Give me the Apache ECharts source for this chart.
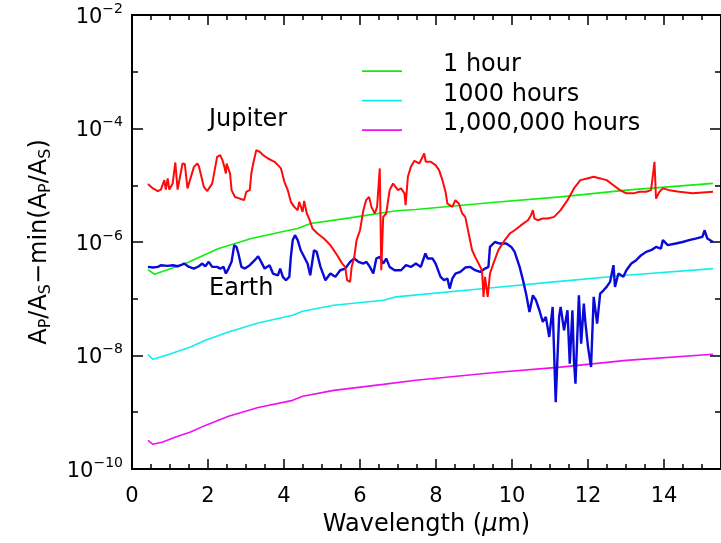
<!DOCTYPE html>
<html>
<head>
<meta charset="utf-8">
<script src="https://cdn.jsdelivr.net/npm/echarts@6/dist/echarts.min.js"></script>
<style>
  html, body { margin: 0; padding: 0; background: #fff; }
  #chart { width: 721px; height: 543px; }
</style>
</head>
<body>
<div id="chart"></div>
<script>
// Wavelength axis (micron) and log-scaled contrast axis
const xTickLabels = ['0', '2', '4', '6', '8', '10', '12', '14'];

// Jupiter spectrum
const jupiterWl = [0.42,0.55,0.68,0.76,0.85,0.89,0.94,0.98,1.07,1.14,
  1.20,1.33,1.39,1.46,1.50,1.63,1.72,1.76,1.89,1.98,
  2.02,2.11,2.24,2.32,2.38,2.43,2.47,2.49,2.54,2.58,
  2.62,2.71,2.84,2.95,3.01,3.10,3.14,3.19,3.27,3.36,
  3.45,3.58,3.75,3.84,3.92,4.01,4.10,4.18,4.27,4.36,
  4.40,4.49,4.53,4.60,4.66,4.75,4.88,5.05,5.22,5.40,
  5.53,5.61,5.66,5.74,5.78,5.85,5.91,6.00,6.09,6.16,
  6.24,6.30,6.39,6.45,6.52,6.56,6.61,6.69,6.78,6.87,
  7.00,7.08,7.17,7.20,7.26,7.34,7.43,7.47,7.56,7.69,
  7.73,7.86,7.99,8.08,8.17,8.25,8.30,8.43,8.51,8.60,
  8.69,8.77,8.86,8.95,9.03,9.12,9.21,9.25,9.29,9.36,
  9.42,9.51,9.64,9.81,9.94,10.07,10.24,10.42,10.50,10.55,
  10.59,10.68,10.81,10.94,11.11,11.28,11.46,11.63,11.80,11.98,
  12.15,12.32,12.49,12.67,12.84,13.01,13.19,13.36,13.53,13.66,
  13.75,13.79,13.88,13.97,14.14,14.40,14.75,15.29];
const jupiterVal = [1.05e-5,8.8e-6,7.9e-6,8.4e-6,1.23e-5,8.4e-6,1.32e-5,8.4e-6,1.07e-5,2.52e-5,
  8.4e-6,2.42e-5,2.36e-5,8.8e-6,8.4e-6,2.11e-5,2.42e-5,2.17e-5,9.4e-6,7.9e-6,
  8.4e-6,1.07e-5,3.17e-5,3.40e-5,2.77e-5,2.11e-5,1.61e-5,2.42e-5,2.26e-5,1.61e-5,
  8.2e-6,6.2e-6,5.8e-6,5.5e-6,7.7e-6,8.2e-6,1.61e-5,2.42e-5,4.16e-5,3.89e-5,
  3.40e-5,2.96e-5,2.59e-5,2.26e-5,1.98e-5,1.15e-5,8.2e-6,5.1e-6,4.16e-6,3.64e-6,
  5.1e-6,3.40e-6,5.3e-6,3.18e-6,2.59e-6,1.73e-6,1.41e-6,1.15e-6,8.8e-7,5.85e-7,
  4.17e-7,3.64e-7,2.12e-7,1.98e-7,3.64e-7,5.47e-7,1.08e-6,1.61e-6,3.64e-6,5.46e-6,
  6.24e-6,4.16e-6,3.18e-6,4.16e-6,1.98e-5,3.18e-7,2.77e-6,3.18e-6,8.2e-6,1.07e-5,
  8.2e-6,8.8e-6,7.2e-6,4.46e-6,1.41e-5,2.11e-5,2.70e-5,2.85e-5,2.42e-5,3.63e-5,
  2.59e-5,2.59e-5,2.26e-5,1.85e-5,1.23e-5,7.7e-6,4.76e-6,4.16e-6,5.46e-6,4.76e-6,
  3.18e-6,2.77e-6,1.41e-6,7.2e-7,5.47e-7,4.17e-7,3.18e-7,1.08e-7,2.43e-7,1.08e-7,
  2.78e-7,4.17e-7,7.2e-7,1.08e-6,1.41e-6,1.61e-6,1.98e-6,2.42e-6,2.97e-6,3.64e-6,
  2.59e-6,2.42e-6,2.59e-6,2.59e-6,2.77e-6,3.64e-6,5.46e-6,8.8e-6,1.23e-5,1.32e-5,
  1.41e-5,1.32e-5,1.23e-5,1.00e-5,8.2e-6,7.2e-6,7.2e-6,7.7e-6,7.7e-6,8.2e-6,
  2.59e-5,5.8e-6,7.7e-6,8.8e-6,8.2e-6,7.7e-6,7.2e-6,7.7e-6];

// Earth spectrum
const earthWl = [0.42,0.55,0.68,0.76,0.81,0.94,1.07,1.20,1.28,1.37,
  1.41,1.50,1.63,1.76,1.85,1.93,2.02,2.11,2.24,2.32,
  2.41,2.47,2.54,2.62,2.69,2.75,2.80,2.88,2.97,3.10,
  3.23,3.32,3.40,3.49,3.62,3.71,3.84,3.90,3.97,4.05,
  4.14,4.18,4.23,4.29,4.36,4.44,4.62,4.69,4.79,4.86,
  4.96,5.09,5.22,5.35,5.48,5.61,5.74,5.85,5.96,6.09,
  6.17,6.26,6.35,6.43,6.52,6.61,6.69,6.78,6.91,7.08,
  7.21,7.34,7.47,7.60,7.72,7.78,7.91,7.99,8.12,8.21,
  8.30,8.36,8.43,8.51,8.64,8.77,8.90,9.03,9.16,9.29,
  9.38,9.42,9.55,9.68,9.85,9.98,10.07,10.20,10.29,10.37,
  10.46,10.55,10.63,10.72,10.81,10.89,10.98,11.07,11.15,11.24,
  11.28,11.37,11.46,11.52,11.59,11.63,11.67,11.76,11.82,11.89,
  11.93,12.00,12.08,12.15,12.24,12.32,12.41,12.49,12.58,12.67,
  12.71,12.80,12.93,13.01,13.14,13.27,13.40,13.53,13.66,13.79,
  13.92,13.97,14.10,14.31,14.49,14.66,14.83,15.01,15.07,15.14,
  15.29];
const earthVal = [3.64e-7,3.55e-7,3.64e-7,3.90e-7,3.74e-7,3.79e-7,3.90e-7,3.74e-7,3.90e-7,4.17e-7,
  3.90e-7,3.64e-7,3.40e-7,3.74e-7,4.17e-7,3.74e-7,4.47e-7,3.64e-7,3.64e-7,3.40e-7,
  3.64e-7,2.78e-7,3.40e-7,4.47e-7,8.79e-7,8.20e-7,6.27e-7,3.64e-7,3.40e-7,3.90e-7,
  4.78e-7,5.62e-7,4.47e-7,3.40e-7,3.90e-7,2.78e-7,2.59e-7,3.40e-7,2.43e-7,2.12e-7,
  2.43e-7,5.47e-7,1.08e-6,1.32e-6,1.08e-6,7.16e-7,4.17e-7,2.59e-7,7.16e-7,6.70e-7,
  3.64e-7,2.12e-7,2.78e-7,2.43e-7,3.18e-7,3.40e-7,4.47e-7,5.11e-7,4.47e-7,4.17e-7,
  4.47e-7,3.64e-7,2.78e-7,5.11e-7,5.47e-7,4.17e-7,5.11e-7,3.64e-7,3.18e-7,3.18e-7,
  3.90e-7,3.64e-7,4.17e-7,3.64e-7,6.27e-7,5.11e-7,5.11e-7,4.17e-7,2.43e-7,2.12e-7,
  2.27e-7,1.51e-7,2.27e-7,2.78e-7,2.97e-7,3.55e-7,3.64e-7,3.18e-7,2.97e-7,3.40e-7,
  3.64e-7,8.20e-7,1.00e-6,9.40e-7,9.40e-7,8.20e-7,6.70e-7,3.64e-7,2.12e-7,1.23e-7,
  5.85e-8,1.15e-7,9.42e-8,6.27e-8,3.90e-8,4.79e-8,2.12e-8,7.18e-8,1.51e-9,4.79e-8,
  7.18e-8,2.78e-8,6.27e-8,7.19e-9,6.27e-8,8.22e-9,3.19e-9,1.15e-7,1.62e-8,8.22e-8,
  3.90e-8,1.42e-8,6.28e-9,1.08e-7,3.65e-8,1.23e-7,1.41e-7,1.62e-7,1.98e-7,3.90e-7,
  1.62e-7,2.78e-7,2.43e-7,3.18e-7,4.17e-7,4.78e-7,5.85e-7,6.70e-7,7.16e-7,8.20e-7,
  7.67e-7,1.08e-6,8.79e-7,9.40e-7,1.00e-6,1.08e-6,1.15e-6,1.23e-6,1.61e-6,1.15e-6,
  1.00e-6];

// Noise floors for three integration times
const hour1Wl = [0.42,0.59,1.41,2.28,3.14,4.01,4.36,4.70,5.73,6.95,7.47,9.55,11.28,13.01,15.29];
const hour1Val = [3.27e-7,2.70e-7,4.18e-7,7.67e-7,1.15e-6,1.55e-6,1.73e-6,2.12e-6,2.66e-6,3.55e-6,3.74e-6,5.01e-6,6.24e-6,8.20e-6,1.08e-5];

const hour1kWl = [0.42,0.55,0.98,1.54,1.93,2.54,3.32,4.23,4.49,5.31,6.61,6.95,9.55,11.11,13.01,15.29];
const hour1kVal = [1.04e-8,8.57e-9,1.05e-8,1.41e-8,1.85e-8,2.60e-8,3.74e-8,5.12e-8,6.03e-8,7.67e-8,9.42e-8,1.08e-7,1.58e-7,1.98e-7,2.59e-7,3.40e-7];

const hour1mWl = [0.42,0.55,0.81,1.15,1.54,1.93,2.54,3.32,4.23,4.49,5.31,6.61,7.47,9.55,11.28,13.01,15.29];
const hour1mVal = [3.19e-10,2.72e-10,2.98e-10,3.66e-10,4.48e-10,5.87e-10,8.47e-10,1.21e-9,1.62e-9,1.91e-9,2.43e-9,3.10e-9,3.66e-9,5.01e-9,6.24e-9,8.20e-9,1.05e-8];

const legendNames = ['1 hour', '1000 hours', '1,000,000 hours'];

const zip = (xs, ys) => xs.map((x, i) => [x, ys[i]]);

const FONT = 'DejaVu Sans';
const NUM = 21;    // tick numbers
const TEXT = 24;   // titles, legend and annotations
const SMALL = 14;

function expLabel(v) {
  const e = Math.round(Math.log10(v));
  return '{b|10}{s|' + (e < 0 ? '\u2212' + (-e) : e) + '}';
}

const tickRich = {
  b: { fontFamily: FONT, fontSize: NUM, color: '#000', lineHeight: 26, verticalAlign: 'bottom' },
  s: { fontFamily: FONT, fontSize: SMALL, color: '#000', lineHeight: 26, verticalAlign: 'top' }
};

const axisLineStyle = { color: '#000', width: 2 };
const tickStyle = { color: '#000', width: 1.5 };

function xAxisOf(position, interval, tickLen, showLabels) {
  return {
    type: 'value', min: 0, max: 15.5, interval: interval, position: position,
    axisLine: { show: showLabels !== null, onZero: false, lineStyle: axisLineStyle },
    axisTick: { show: true, inside: true, length: tickLen, lineStyle: tickStyle },
    axisLabel: showLabels ? {
      show: true, margin: 17, fontFamily: FONT, fontSize: NUM, color: '#000',
      showMaxLabel: false,
      formatter: v => xTickLabels[Math.round(v / 2)] ?? ''
    } : { show: false },
    splitLine: { show: false }
  };
}

function yAxisOf(position, interval, tickLen, showLabels) {
  return {
    type: 'log', logBase: 10, min: 1e-10, max: 1e-2, interval: interval, position: position,
    axisLine: { show: showLabels !== null, onZero: false, lineStyle: axisLineStyle },
    axisTick: { show: true, inside: true, length: tickLen, lineStyle: tickStyle },
    axisLabel: showLabels ? {
      show: true, margin: 9, formatter: expLabel, rich: tickRich
    } : { show: false },
    splitLine: { show: false }
  };
}

const xMain = xAxisOf('bottom', 2, 10, true);
xMain.name = 'Wavelength ({i|\u03bc}m)';
xMain.nameLocation = 'middle';
xMain.nameGap = 44;
xMain.nameTextStyle = {
  fontFamily: FONT, fontSize: TEXT, color: '#000',
  rich: {
    i: { fontFamily: FONT, fontSize: TEXT, fontStyle: 'italic', color: '#000' }
  }
};

const yMain = yAxisOf('left', 2, 11, true);
yMain.name = 'A{s|P}/A{s|S}\u2212min(A{s|P}/A{s|S})';
yMain.nameLocation = 'middle';
yMain.nameGap = 78;
yMain.nameTextStyle = {
  fontFamily: FONT, fontSize: TEXT, color: '#000', lineHeight: 28,
  rich: {
    s: { fontFamily: FONT, fontSize: 16, color: '#000', lineHeight: 28, verticalAlign: 'bottom', padding: [9, 0, 0, 0] }
  }
};

function lineSeries(name, wl, vals, color, width, z) {
  return {
    name: name, type: 'line', data: zip(wl, vals),
    xAxisIndex: 0, yAxisIndex: 0,
    showSymbol: false, symbol: 'none', z: z,
    lineStyle: { color: color, width: width },
    itemStyle: { color: color },
    emphasis: { disabled: true }
  };
}

const option = {
  animation: false,
  backgroundColor: '#fff',
  grid: { left: 132, top: 15, width: 597, height: 454 },
  xAxis: [
    xMain,
    xAxisOf('bottom', 0.5, 5, false),
    xAxisOf('top', 2, 10, false),
    xAxisOf('top', 0.5, 5, false)
  ],
  yAxis: [
    yMain,
    yAxisOf('left', 1, 6, false),
    yAxisOf('right', 2, 11, false),
    yAxisOf('right', 1, 6, false)
  ],
  legend: {
    data: legendNames,
    orient: 'vertical',
    left: 362, top: 52,
    padding: 0,
    // thin stroke sitting at the bottom of a 40x14 icon box
    icon: 'path://M0 0 M0 12.3 L40 12.3 L40 14 L0 14 Z',
    itemWidth: 40, itemHeight: 14,
    itemGap: 3.5,
    selectedMode: false,
    textStyle: {
      fontFamily: FONT, fontSize: TEXT, color: '#000', lineHeight: 26,
      padding: [0, 0, 0, 36]
    }
  },
  graphic: [
    { type: 'text', left: 209, top: 108, style: { text: 'Jupiter', font: TEXT + 'px "' + FONT + '"', fill: '#000' } },
    { type: 'text', left: 209, top: 277, style: { text: 'Earth', font: TEXT + 'px "' + FONT + '"', fill: '#000' } }
  ],
  series: [
    lineSeries(legendNames[0], hour1Wl, hour1Val, '#10ee10', 1.6, 2),
    lineSeries(legendNames[1], hour1kWl, hour1kVal, '#10eeee', 1.6, 2),
    lineSeries(legendNames[2], hour1mWl, hour1mVal, '#ee10ee', 1.6, 2),
    lineSeries('Earth', earthWl, earthVal, '#0a0ad8', 2.4, 3),
    lineSeries('Jupiter', jupiterWl, jupiterVal, '#ff0a0a', 2, 4)
  ]
};

const chart = echarts.init(document.getElementById('chart'), null, { renderer: 'canvas' });
chart.setOption(option);
</script>
</body>
</html>
